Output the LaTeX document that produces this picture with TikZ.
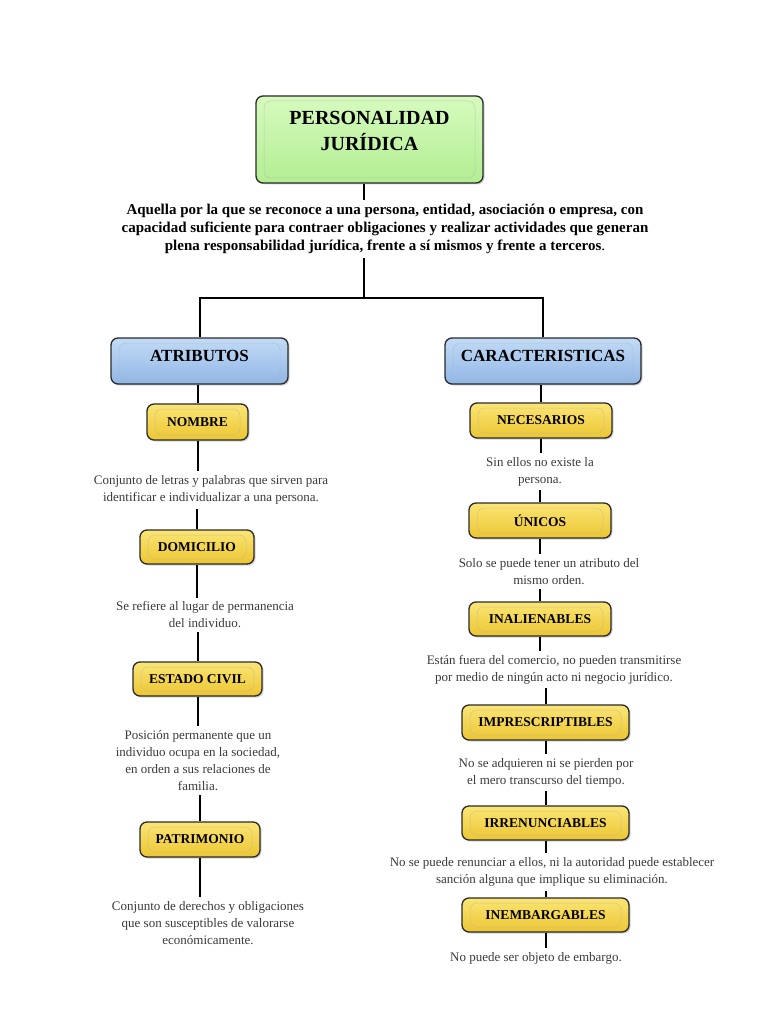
\documentclass[tikz,border=0pt]{standalone}
\usepackage{fontspec}
\setmainfont{Liberation Serif}
\usetikzlibrary{shadows,calc}
\definecolor{gtop}{HTML}{D6FBBE}
\definecolor{gbot}{HTML}{B2EE92}
\definecolor{btop}{HTML}{C2DBF6}
\definecolor{bbot}{HTML}{90B6E6}
\definecolor{ytop}{HTML}{FBE574}
\definecolor{ybot}{HTML}{ECC632}
\definecolor{bord}{HTML}{2A2A2A}
\definecolor{txtgray}{HTML}{3A3A3A}
\tikzset{
  x=1pt, y=-1pt,
  boxbase/.style={draw=bord, line width=1.3pt, rounded corners=7pt,
    drop shadow={shadow xshift=1.5pt, shadow yshift=-1.5pt, opacity=.35},
    align=center, font=\bfseries, text=black, inner sep=0pt,
    path picture={\draw[black!30, line width=.5pt, opacity=.6]
      ([shift={(8pt,-5pt)}]path picture bounding box.north west) rectangle
      ([shift={(-8pt,5pt)}]path picture bounding box.south east);}},
  titlebox/.style={boxbase, top color=gtop, bottom color=gbot, text depth=18pt,
    font=\fontsize{20}{26}\selectfont\bfseries},
  catbox/.style={boxbase, top color=btop, bottom color=bbot, text depth=10pt,
    font=\fontsize{17}{20}\selectfont\bfseries},
  itembox/.style={boxbase, top color=ytop, bottom color=ybot,
    font=\fontsize{13.5}{16}\selectfont\bfseries},
  desc/.style={align=center, text=txtgray, inner xsep=0pt, inner ysep=4pt,
    font=\fontsize{13}{17}\selectfont},
  maindesc/.style={align=center, text=black, inner xsep=0pt, inner ysep=4pt,
    font=\fontsize{15}{18}\selectfont\bfseries},
  conn/.style={draw=black, line width=2pt}
}
\begin{document}
\begin{tikzpicture}
\useasboundingbox[fill=white] (0,0) rectangle (768,1024);

% title
\node[titlebox, minimum width=227pt, minimum height=87pt] (title) at (369.5,139.5) {PERSONALIDAD\\JURÍDICA};
\node[maindesc] (def) at (385,229) {Aquella por la que se reconoce a una persona, entidad, asociación o empresa, con\\capacidad suficiente para contraer obligaciones y realizar actividades que generan\\plena responsabilidad jurídica, frente a sí mismos y frente a terceros{\mdseries .}};
\coordinate (j) at (364,298);

% categories
\node[catbox, minimum width=177pt, minimum height=46pt] (atr) at (199.5,361) {ATRIBUTOS};
\node[catbox, minimum width=196pt, minimum height=46pt] (car) at (543,361) {CARACTERISTICAS};

% left column
\node[itembox, minimum width=101pt, minimum height=36pt] (nom) at (197.5,422) {NOMBRE};
\node[desc] (t1) at (211,490) {Conjunto de letras y palabras que sirven para\\identificar e individualizar a una persona.};
\node[itembox, minimum width=114pt, minimum height=34pt] (dom) at (197,547) {DOMICILIO};
\node[desc] (t2) at (205,615) {Se refiere al lugar de permanencia\\del individuo.};
\node[itembox, minimum width=129pt, minimum height=34pt] (est) at (197.5,679) {ESTADO CIVIL};
\node[desc] (t3) at (198,760.5) {Posición permanente que un\\individuo ocupa en la sociedad,\\en orden a sus relaciones de\\familia.};
\node[itembox, minimum width=120pt, minimum height=35pt] (pat) at (200,839.5) {PATRIMONIO};
\node[desc] (t4) at (208,923) {Conjunto de derechos y obligaciones\\que son susceptibles de valorarse\\económicamente.};

% right column
\node[itembox, minimum width=142pt, minimum height=35pt] (nec) at (541,420.5) {NECESARIOS};
\node[desc] (r1) at (540,471.5) {Sin ellos no existe la\\persona.};
\node[itembox, minimum width=142pt, minimum height=35pt] (uni) at (540,520.5) {ÚNICOS};
\node[desc] (r2) at (549,571.5) {Solo se puede tener un atributo del\\mismo orden.};
\node[itembox, minimum width=142pt, minimum height=34pt] (ina) at (540,619) {INALIENABLES};
\node[desc] (r3) at (554,669.5) {Están fuera del comercio, no pueden transmitirse\\por medio de ningún acto ni negocio jurídico.};
\node[itembox, minimum width=167pt, minimum height=35pt] (imp) at (545.5,722.5) {IMPRESCRIPTIBLES};
\node[desc] (r4) at (546,772.5) {No se adquieren ni se pierden por\\el mero transcurso del tiempo.};
\node[itembox, minimum width=167pt, minimum height=34pt] (irr) at (545.5,823) {IRRENUNCIABLES};
\node[desc] (r5) at (552,872) {No se puede renunciar a ellos, ni la autoridad puede establecer\\sanción alguna que implique su eliminación.};
\node[itembox, minimum width=167pt, minimum height=34pt] (ine) at (545.5,915) {INEMBARGABLES};
\node[desc] (r6) at (536,958) {No puede ser objeto de embargo.};

% connectors
\draw[conn] (j |- title.south) -- (j |- def.north);
\draw[conn] (j |- def.south) -- (j);
\draw[conn] (j) -| (atr.north);
\draw[conn] (j) -| (car.north);

\draw[conn] (nom.north |- atr.south) -- (nom.north);
\draw[conn] (nom.south) -- (nom.south |- t1.north);
\draw[conn] (dom.north |- t1.south) -- (dom.north);
\draw[conn] (dom.south) -- (dom.south |- t2.north);
\draw[conn] (est.north |- t2.south) -- (est.north);
\draw[conn] (est.south) -- (est.south |- t3.north);
\draw[conn] (pat.north |- t3.south) -- (pat.north);
\draw[conn] (pat.south) -- (pat.south |- t4.north);

\draw[conn] (nec.north |- car.south) -- (nec.north);
\draw[conn] (nec.south) -- (nec.south |- r1.north);
\draw[conn] (uni.north |- r1.south) -- (uni.north);
\draw[conn] (uni.south) -- (uni.south |- r2.north);
\draw[conn] (ina.north |- r2.south) -- (ina.north);
\draw[conn] (ina.south) -- (ina.south |- r3.north);
\draw[conn] (imp.north |- r3.south) -- (imp.north);
\draw[conn] (imp.south) -- (imp.south |- r4.north);
\draw[conn] (irr.north |- r4.south) -- (irr.north);
\draw[conn] (irr.south) -- (irr.south |- r5.north);
\draw[conn] (ine.north |- r5.south) -- (ine.north);
\draw[conn] (ine.south) -- (ine.south |- r6.north);
\end{tikzpicture}
\end{document}
